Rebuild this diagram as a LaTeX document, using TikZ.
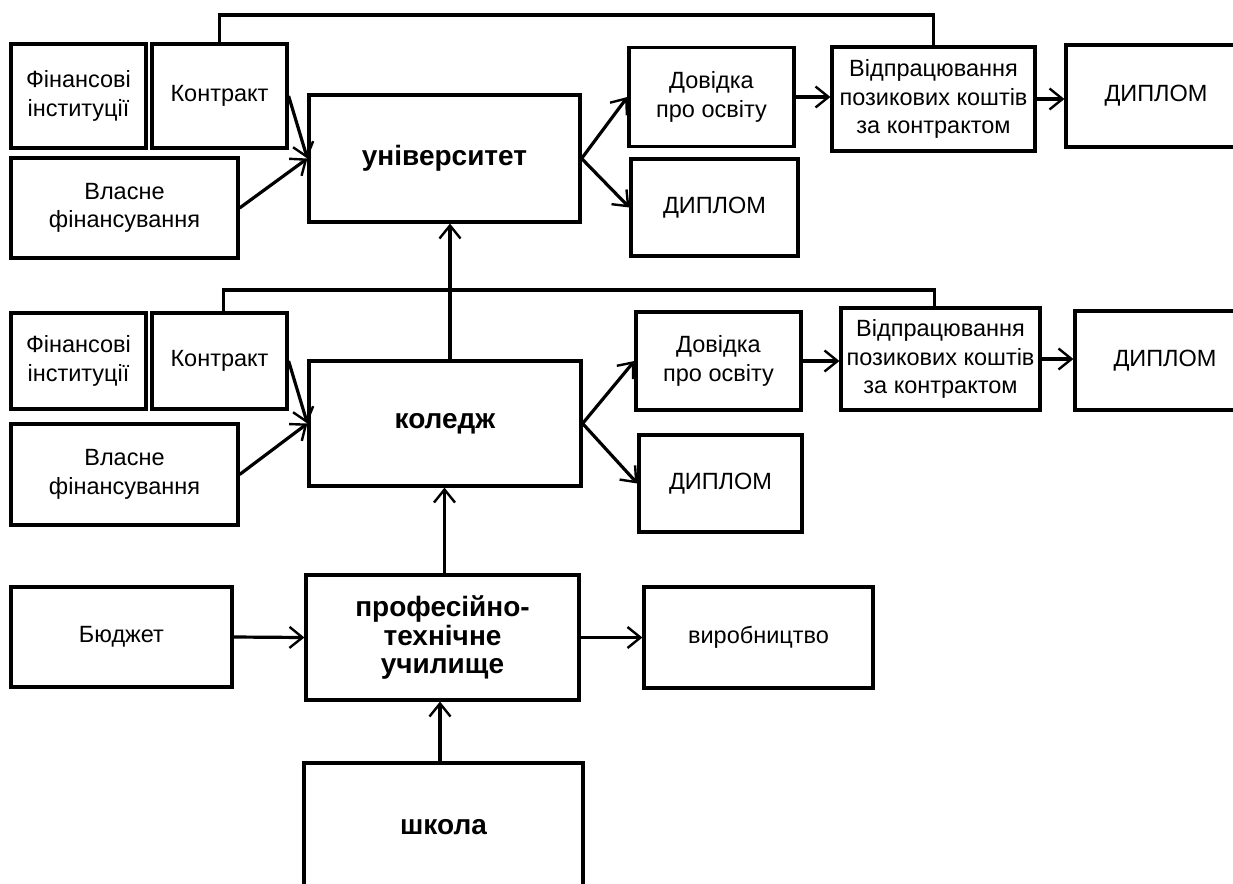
\documentclass[tikz,border=0pt]{standalone}
\usepackage{fontspec}
\setmainfont{Liberation Sans}
\usetikzlibrary{arrows.meta,calc}
\begin{document}
\begin{tikzpicture}[x=1pt,y=-1pt,
  box/.style={draw, line width=3.2pt, inner sep=0pt, align=center, font=\fontsize{23.5}{28.5}\selectfont},
  bbox/.style={box, font=\bfseries\fontsize{28}{28.5}\selectfont},
  sz/.style 2 args={minimum width=#1pt, minimum height=#2pt},
  arr/.style={line width=3.2pt, -{Straight Barb[length=13pt,width=21pt,line width=2.4pt]}},
  link/.style={line width=3.2pt}]
\useasboundingbox (0,0) rectangle (1233,883);
\clip (0,0) rectangle (1233,883);
% top row
\node[box, sz={135}{104}] (fin1) at (78.5,96) {Фінансові\\інституції};
\node[box, sz={135}{104}] (contr1) at (219.5,96) {Контракт};
\node[box, sz={227}{100}] (own1) at (124.5,208) {Власне\\фінансування};
\node[bbox, sz={271}{127}] (univ) at (444.5,158.5) {університет};
\node[box, sz={165}{99}] (dov1) at (711.5,97) {Довідка\\про освіту};
\node[box, sz={167}{97}] (dip1) at (714.5,207.5) {ДИПЛОМ};
\node[box, sz={203}{104}] (vidp1) at (933.5,99) {Відпрацювання\\позикових коштів\\за контрактом};
\node[box, sz={180}{102}] (dipR1) at (1156,96) {ДИПЛОМ};
% middle row
\node[box, sz={135}{96}] (fin2) at (78.5,361) {Фінансові\\інституції};
\node[box, sz={135}{96}] (contr2) at (219.5,361) {Контракт};
\node[box, sz={227}{101}] (own2) at (124.5,474.5) {Власне\\фінансування};
\node[bbox, sz={272}{125}] (coll) at (445,423.5) {коледж};
\node[box, sz={165}{98}] (dov2) at (718.5,361) {Довідка\\про освіту};
\node[box, sz={163}{97}] (dip2) at (720.5,483.5) {ДИПЛОМ};
\node[box, sz={199}{102}] (vidp2) at (940.5,359) {Відпрацювання\\позикових коштів\\за контрактом};
\node[box, sz={180}{99}] (dipR2) at (1165,360.5) {ДИПЛОМ};
% bottom
\node[box, sz={221}{100}] (budg) at (121.5,637) {Бюджет};
\node[bbox, sz={273}{125}] (ptu) at (442.5,637.5) {професійно-\\технічне\\училище};
\node[box, sz={229}{101}] (vyr) at (758.5,637.5) {виробництво};
\node[bbox, sz={279}{128}] (school) at (443.5,827) {школа};
% feedback lines
\coordinate (t1) at (0,15);
\coordinate (t2) at (0,290);
\draw[link] (contr1.north) -- (contr1.north |- t1) -| (vidp1.north);
\draw[link] ([xshift=4pt]contr2.north) -- ([xshift=4pt]contr2.north |- t2) -| ([xshift=-6pt]vidp2.north);
% arrows top
\draw[arr] (contr1.east) -- (univ.west);
\draw[arr] (own1.east) -- (univ.west);
\draw[arr] (univ.east) -- (dov1.west);
\draw[arr] (univ.east) -- (dip1.west);
\draw[arr] (dov1.east) -- (dov1.east -| vidp1.west);
\draw[arr] (vidp1.east) -- (vidp1.east -| dipR1.west);
% arrows middle
\draw[arr] (contr2.east) -- (coll.west);
\draw[arr] (own2.east) -- (coll.west);
\draw[arr] (coll.east) -- (dov2.west);
\draw[arr] (coll.east) -- (dip2.west);
\draw[arr] (dov2.east) -- (dov2.east -| vidp2.west);
\draw[arr] (vidp2.east) -- (vidp2.east -| dipR2.west);
\draw[arr] ([xshift=5pt]coll.north) -- ([xshift=5pt]coll.north |- univ.south);
% arrows bottom
\draw[arr] ([xshift=2pt]ptu.north) -- ([xshift=2pt]ptu.north |- coll.south);
\draw[arr] (budg.east) -- (ptu.west);
\draw[arr] (ptu.east) -- (vyr.west);
\draw[arr] ([xshift=-3.5pt]school.north) -- ([xshift=-3.5pt]school.north |- ptu.south);
\end{tikzpicture}
\end{document}
